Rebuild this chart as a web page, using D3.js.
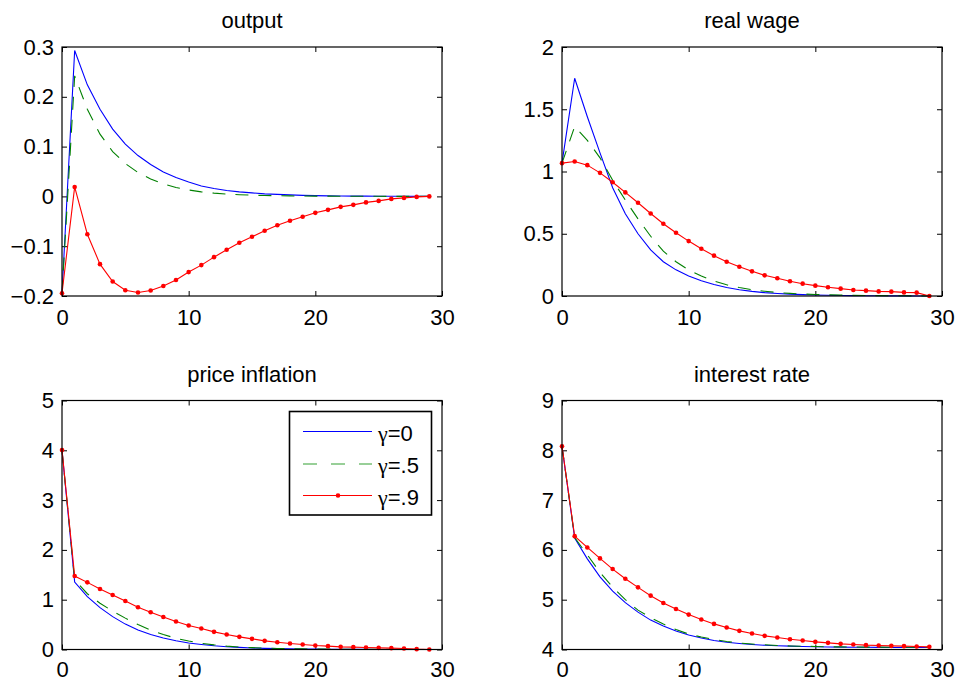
<!DOCTYPE html>
<html>
<head>
<meta charset="utf-8">
<script src="https://cdn.jsdelivr.net/npm/d3@7"></script>
<style>
  html, body { margin: 0; padding: 0; background: #fff; }
  svg { display: block; }
  text { font-family: "Liberation Sans", Arial, Helvetica, sans-serif; font-size: 22px; fill: #000; }
</style>
</head>
<body>
<svg id="chart" width="956" height="682"></svg>
<script>
// ---------- data ----------
const periods = [0,1,2,3,4,5,6,7,8,9,10,11,12,13,14,15,16,17,18,19,20,21,22,23,24,25,26,27,28,29];
const seriesSymbol = "γ";
const seriesValues = ["=0", "=.5", "=.9"];
const xTicks = [0, 10, 20, 30];
const xTickLabels = ["0", "10", "20", "30"];

// output
const outputG0 = [-0.195,0.293,0.224,0.175,0.135,0.105,0.082,0.064,0.049,0.038,0.029,0.021,0.016,0.012,0.009,0.007,0.005,0.004,0.003,0.002,0.0015,0.001,0.0008,0.0006,0.0005,0.0004,0.0003,0.0002,0.0001,0];
const outputG5 = [-0.195,0.242,0.175,0.125,0.090,0.066,0.048,0.035,0.025,0.018,0.013,0.009,0.0065,0.0047,0.0034,0.0025,0.0018,0.0013,0.001,0.0008,0.0006,0.0005,0.0004,0.0003,0.0002,0.0002,0.0001,0.0001,0.0001,0];
const outputG9 = [-0.1945,0.019,-0.076,-0.136,-0.171,-0.1885,-0.193,-0.189,-0.180,-0.168,-0.152,-0.138,-0.122,-0.107,-0.093,-0.081,-0.069,-0.058,-0.049,-0.041,-0.033,-0.027,-0.021,-0.017,-0.012,-0.009,-0.005,-0.003,-0.001,0];
const outputTicks = [-0.2,-0.1,0,0.1,0.2,0.3];
const outputTickLabels = ["\u22120.2","\u22120.1","0","0.1","0.2","0.3"];

// real wage
const wageG0 = [1.067,1.749,1.44,1.15,0.87,0.66,0.50,0.37,0.275,0.21,0.16,0.122,0.092,0.068,0.050,0.037,0.027,0.020,0.015,0.011,0.008,0.006,0.004,0.003,0.002,0.0015,0.001,0.0007,0.0004,0];
const wageG5 = [1.067,1.361,1.25,1.11,0.93,0.77,0.62,0.48,0.36,0.275,0.21,0.16,0.12,0.09,0.068,0.05,0.038,0.028,0.021,0.016,0.012,0.009,0.007,0.005,0.004,0.003,0.002,0.0015,0.001,0];
const wageG9 = [1.067,1.080,1.051,0.989,0.914,0.832,0.749,0.663,0.580,0.508,0.441,0.380,0.324,0.275,0.235,0.198,0.166,0.142,0.118,0.099,0.083,0.070,0.059,0.048,0.043,0.037,0.035,0.029,0.027,0];
const wageTicks = [0,0.5,1,1.5,2];
const wageTickLabels = ["0","0.5","1","1.5","2"];

// price inflation
const inflG0 = [4.0,1.355,1.06,0.84,0.66,0.51,0.39,0.30,0.23,0.175,0.13,0.10,0.075,0.056,0.042,0.031,0.023,0.017,0.013,0.010,0.007,0.005,0.004,0.003,0.002,0.0015,0.001,0.0007,0.0004,0];
const inflG5 = [4.0,1.40,1.12,0.93,0.77,0.63,0.50,0.39,0.30,0.225,0.17,0.125,0.092,0.068,0.05,0.038,0.028,0.021,0.016,0.012,0.009,0.007,0.005,0.004,0.003,0.002,0.0015,0.001,0.0005,0];
const inflG9 = [4.005,1.475,1.348,1.215,1.095,0.975,0.848,0.748,0.654,0.561,0.481,0.421,0.354,0.300,0.254,0.214,0.174,0.147,0.120,0.100,0.080,0.067,0.053,0.047,0.040,0.033,0.027,0.020,0.007,0];
const inflTicks = [0,1,2,3,4,5];
const inflTickLabels = ["0","1","2","3","4","5"];

// interest rate
const rateG0 = [8.08,6.24,5.82,5.46,5.17,4.94,4.75,4.59,4.47,4.37,4.29,4.23,4.18,4.145,4.12,4.10,4.085,4.075,4.067,4.06,4.055,4.05,4.048,4.046,4.044,4.042,4.04,4.04,4.04,4.04];
const rateG5 = [8.08,6.25,5.90,5.55,5.25,5.00,4.79,4.64,4.51,4.40,4.31,4.25,4.20,4.16,4.13,4.11,4.095,4.08,4.07,4.065,4.06,4.055,4.052,4.05,4.048,4.047,4.046,4.045,4.045,4.045];
const rateG9 = [8.079,6.276,6.049,5.829,5.615,5.422,5.248,5.081,4.935,4.814,4.701,4.601,4.514,4.441,4.374,4.320,4.274,4.240,4.207,4.180,4.154,4.134,4.113,4.100,4.087,4.080,4.073,4.067,4.060,4.053];
const rateTicks = [4,5,6,7,8,9];
const rateTickLabels = ["4","5","6","7","8","9"];

// ---------- layout / styles ----------
const styles = [
  { color: "#0000ff", dash: null, marker: false },
  { color: "#008000", dash: "13,10", marker: false },
  { color: "#ff0000", dash: null, marker: true }
];
const legendColors = ["#0000ff", "#33a033", "#ff0000"];

const panels = [
  { title: "output", series: [outputG0, outputG5, outputG9], ticks: outputTicks, labels: outputTickLabels, box: [62, 47, 442, 296], pad: 13 },
  { title: "real wage", series: [wageG0, wageG5, wageG9], ticks: wageTicks, labels: wageTickLabels, box: [562, 47, 942, 296], pad: 13 },
  { title: "price inflation", series: [inflG0, inflG5, inflG9], ticks: inflTicks, labels: inflTickLabels, box: [62, 400.5, 442, 649.5], pad: 12, legend: true },
  { title: "interest rate", series: [rateG0, rateG5, rateG9], ticks: rateTicks, labels: rateTickLabels, box: [562, 400.5, 942, 649.5], pad: 12 }
];

const svg = d3.select("#chart");
const TICK = 5;

panels.forEach(p => {
  const [x0, y0, x1, y1] = p.box;
  const x = d3.scaleLinear().domain([0, 30]).range([x0, x1]);
  const y = d3.scaleLinear().domain([p.ticks[0], p.ticks[p.ticks.length - 1]]).range([y1, y0]);
  const g = svg.append("g");

  g.append("rect").attr("x", x0).attr("y", y0).attr("width", x1 - x0).attr("height", y1 - y0)
    .attr("fill", "#fff");

  const clipId = "clip" + p.title.replace(/\s/g, "");
  svg.append("clipPath").attr("id", clipId).append("rect")
    .attr("x", x0 - 4).attr("y", y0 - 4).attr("width", x1 - x0 + 8).attr("height", y1 - y0 + 8);

  const fmtY = d => p.labels[p.ticks.indexOf(d)];
  const fmtX = d => xTickLabels[xTicks.indexOf(d)];
  const left = g.append("g").attr("transform", `translate(${x0},0)`)
    .call(d3.axisLeft(y).tickValues(p.ticks).tickFormat(fmtY).tickSize(-TICK).tickPadding(8));
  const right = g.append("g").attr("transform", `translate(${x1},0)`)
    .call(d3.axisRight(y).tickValues(p.ticks).tickFormat("").tickSize(-TICK));
  const bottom = g.append("g").attr("transform", `translate(0,${y1})`)
    .call(d3.axisBottom(x).tickValues(xTicks).tickFormat(fmtX).tickSize(-TICK).tickPadding(p.pad));
  const top = g.append("g").attr("transform", `translate(0,${y0})`)
    .call(d3.axisTop(x).tickValues(xTicks).tickFormat("").tickSize(-TICK));
  [left, right, bottom, top].forEach(a => {
    a.select(".domain").remove();
    a.attr("font-size", null).attr("font-family", null);
    a.selectAll("line").attr("stroke", "#000").attr("stroke-width", 1);
  });

  const plot = g.append("g").attr("clip-path", `url(#${clipId})`);
  p.series.forEach((vals, i) => {
    const st = styles[i];
    const line = d3.line().x((d, k) => x(periods[k])).y(d => y(d));
    plot.append("path").datum(vals).attr("d", line)
      .attr("fill", "none").attr("stroke", st.color).attr("stroke-width", 1.1)
      .attr("stroke-dasharray", st.dash);
    if (st.marker) {
      plot.selectAll(null).data(vals).enter().append("circle")
        .attr("cx", (d, k) => x(periods[k])).attr("cy", d => y(d)).attr("r", 2.3)
        .attr("fill", st.color);
    }
  });

  g.append("rect").attr("x", x0).attr("y", y0).attr("width", x1 - x0).attr("height", y1 - y0)
    .attr("fill", "none").attr("stroke", "#000").attr("stroke-width", 1.2);

  g.append("text").attr("x", (x0 + x1) / 2).attr("y", y0 - 19).attr("text-anchor", "middle").text(p.title);

  if (p.legend) {
    const lg = g.append("g");
    lg.append("rect").attr("x", 289.5).attr("y", 411.5).attr("width", 142).attr("height", 103.5)
      .attr("fill", "#fff").attr("stroke", "#000").attr("stroke-width", 1.6);
    const rows = [431.5, 464, 495.5];
    seriesValues.forEach((val, i) => {
      const st = styles[i];
      lg.append("line").attr("x1", 303).attr("x2", 372).attr("y1", rows[i]).attr("y2", rows[i])
        .attr("stroke", legendColors[i]).attr("stroke-width", 1.1)
        .attr("stroke-dasharray", st.dash ? "14,14" : null);
      if (st.marker) {
        lg.append("circle").attr("cx", 338).attr("cy", rows[i]).attr("r", 2.3).attr("fill", st.color);
      }
      const t = lg.append("text").attr("x", 378).attr("y", rows[i] + 9);
      t.append("tspan").style("font-family", "'Liberation Serif', 'DejaVu Serif', serif").text(seriesSymbol);
      t.append("tspan").text(val);
    });
  }
});
</script>
</body>
</html>
